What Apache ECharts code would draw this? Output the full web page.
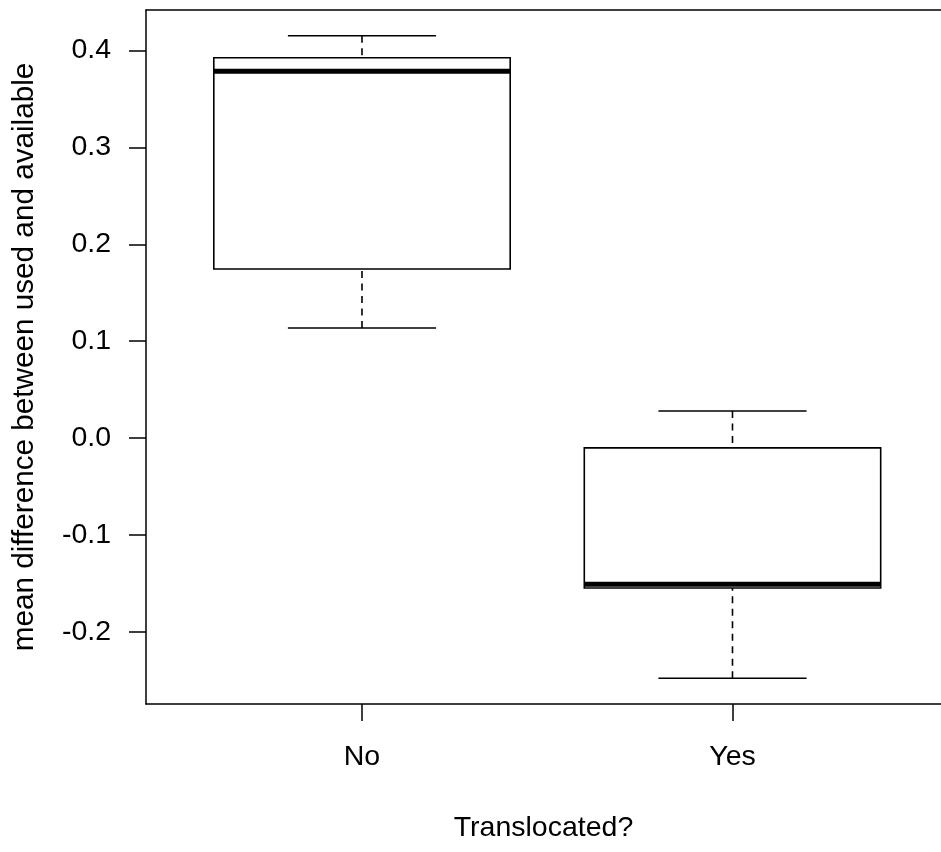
<!DOCTYPE html>
<html>
<head>
<meta charset="utf-8">
<script src="https://cdn.jsdelivr.net/npm/echarts@6/dist/echarts.min.js"></script>
<style>html,body{margin:0;padding:0;background:#fff;}#chart{width:941px;height:852px;}</style>
</head>
<body>
<div id="chart"></div>
<script>
var categories = ['No', 'Yes'];
var lowerWhisker = [0.1137, -0.2477];
var q1 = [0.1745, -0.1546];
var median = [0.3786, -0.1508];
var q3 = [0.3925, -0.0100];
var upperWhisker = [0.4152, 0.0281];
var yTicks = [-0.2, -0.1, 0.0, 0.1, 0.2, 0.3, 0.4];
var xTicks = [1, 2];

var FONT = "'Liberation Sans', Arial, sans-serif";
var boxData = categories.map(function (c, i) {
  return [i + 1, lowerWhisker[i], q1[i], median[i], q3[i], upperWhisker[i]];
});

var frameLine = {show: true, onZero: false, lineStyle: {color: '#000', width: 1.5}};

var chart = echarts.init(document.getElementById('chart'), null, {renderer: 'canvas'});
chart.setOption({
  animation: false,
  backgroundColor: '#fff',
  grid: {left: 146, top: 10, right: 0, height: 694, show: false},
  xAxis: [{
    type: 'value', min: 0.417, max: 2.5628, position: 'bottom',
    axisLine: frameLine,
    splitLine: {show: false},
    axisTick: {show: true, length: 17, inside: false, customValues: xTicks, lineStyle: {color: '#000', width: 1.5}},
    axisLabel: {customValues: xTicks, margin: 39, fontSize: 28.5, fontFamily: FONT, color: '#000',
      formatter: function (v) { return categories[Math.round(v) - 1]; }},
    name: 'Translocated?', nameLocation: 'middle', nameGap: 110,
    nameTextStyle: {fontSize: 28.5, fontFamily: FONT, color: '#000'}
  }, {
    type: 'value', min: 0.417, max: 2.5628, position: 'top',
    axisLine: frameLine,
    splitLine: {show: false},
    axisTick: {show: false},
    axisLabel: {show: false}
  }],
  yAxis: {
    type: 'value', min: -0.2742, max: 0.4417,
    axisLine: frameLine,
    splitLine: {show: false},
    axisTick: {show: true, length: 17, inside: false, customValues: yTicks, lineStyle: {color: '#000', width: 1.5}},
    axisLabel: {customValues: yTicks, margin: 35, fontSize: 28.5, fontFamily: FONT, color: '#000',
      formatter: function (v) { return v.toFixed(1); }},
    name: 'mean difference between used and available', nameLocation: 'middle', nameGap: 106, nameRotate: 90,
    nameTextStyle: {fontSize: 29.7, fontFamily: FONT, color: '#000'}
  },
  series: [{
    type: 'custom',
    xAxisIndex: 0,
    data: boxData,
    encode: {x: 0, y: [1, 2, 3, 4, 5]},
    renderItem: function (params, api) {
      var x = api.value(0), lo = api.value(1), a = api.value(2), m = api.value(3), b = api.value(4), hi = api.value(5);
      var hw = 0.4, cw = 0.2;
      var pTL = api.coord([x - hw, b]), pBR = api.coord([x + hw, a]);
      var pHi = api.coord([x, hi]), pB = api.coord([x, b]);
      var pLo = api.coord([x, lo]), pA = api.coord([x, a]);
      var pML = api.coord([x - hw, m]), pMR = api.coord([x + hw, m]);
      var cHL = api.coord([x - cw, hi]), cHR = api.coord([x + cw, hi]);
      var cLL = api.coord([x - cw, lo]), cLR = api.coord([x + cw, lo]);
      var dashStyle = {stroke: '#000', lineWidth: 1.6, lineDash: [7, 5.5], fill: null};
      var solid = {stroke: '#000', lineWidth: 1.6, fill: null};
      return {
        type: 'group',
        children: [
          {type: 'line', shape: {x1: pHi[0], y1: pHi[1], x2: pB[0], y2: pB[1]}, style: dashStyle},
          {type: 'line', shape: {x1: pLo[0], y1: pLo[1], x2: pA[0], y2: pA[1]}, style: dashStyle},
          {type: 'rect', shape: {x: pTL[0], y: pTL[1], width: pBR[0] - pTL[0], height: pBR[1] - pTL[1]},
            style: {fill: '#fff', stroke: '#000', lineWidth: 1.6}},
          {type: 'line', shape: {x1: pML[0], y1: pML[1], x2: pMR[0], y2: pMR[1]}, style: {stroke: '#000', lineWidth: 5, lineCap: 'butt'}},
          {type: 'line', shape: {x1: cHL[0], y1: cHL[1], x2: cHR[0], y2: cHR[1]}, style: solid},
          {type: 'line', shape: {x1: cLL[0], y1: cLL[1], x2: cLR[0], y2: cLR[1]}, style: solid}
        ]
      };
    }
  }]
});
</script>
</body>
</html>
